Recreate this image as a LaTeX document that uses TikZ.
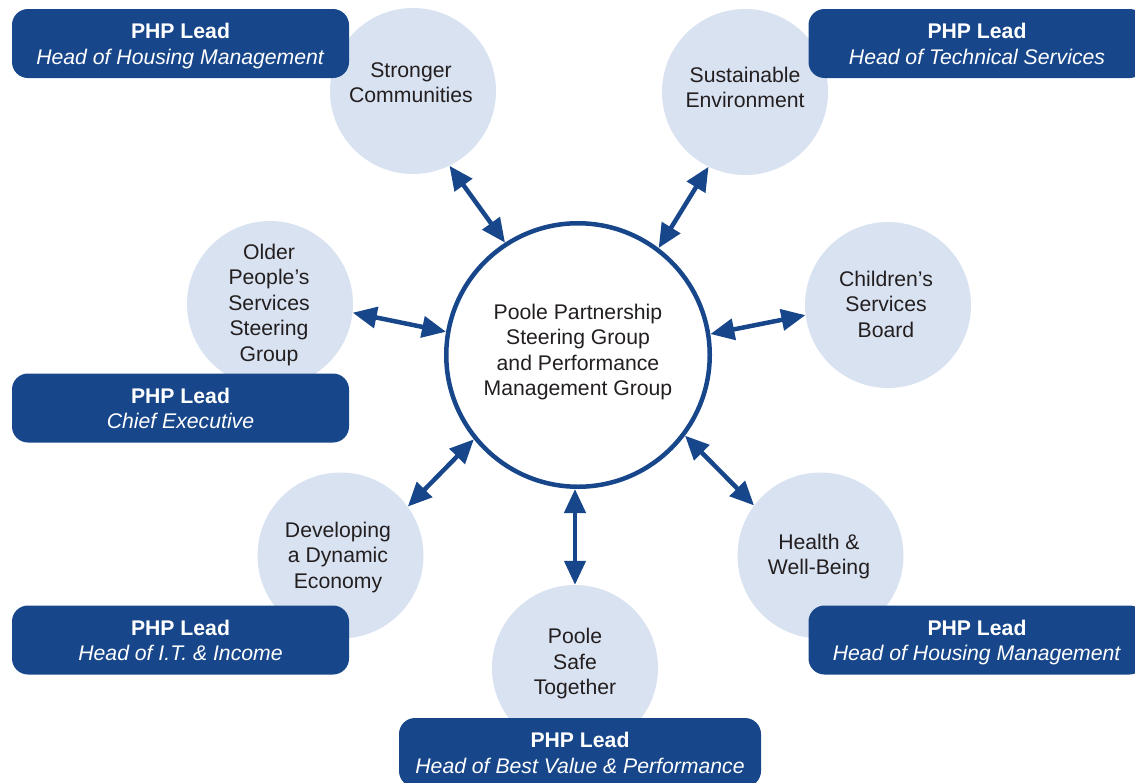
\documentclass[tikz,border=0pt]{standalone}
\usepackage{fontspec}
\setmainfont{Liberation Sans}
\usetikzlibrary{arrows.meta}
\definecolor{phpblue}{HTML}{17468A}
\definecolor{themefill}{HTML}{D9E2F1}
\definecolor{ink}{HTML}{231F20}
% fixed-height line strut so every lead box centres its two lines alike
\newcommand{\boxstrut}{\rule[-4pt]{0pt}{24pt}}
\begin{document}
\begin{tikzpicture}[x=1pt,y=-1pt,
  theme/.style={circle, fill=themefill, minimum size=166pt, inner sep=0pt},
  themetext/.style={align=center, text=ink, inner sep=0pt,
    font=\fontsize{21.2}{25.5}\selectfont},
  hub/.style={circle, draw=phpblue, line width=4.5pt, fill=white,
    minimum size=263.5pt, inner sep=0pt},
  leadbox/.style={rounded corners=16pt, fill=phpblue, text=white,
    minimum width=337pt, minimum height=69pt, align=center, inner sep=0pt,
    font=\fontsize{21.2}{25.5}\selectfont},
  link/.style={draw=phpblue, line width=4.5pt,
    {Triangle[length=24pt,width=21pt]}-{Triangle[length=24pt,width=21pt]}},
]
\useasboundingbox (0,0) rectangle (1135,782);
\clip (0,0) rectangle (1135,782);

% theme circles
\node[theme] (sc) at (413,91) {};
\node[theme] (se) at (745,92) {};
\node[theme] (op) at (270,304) {};
\node[theme] (cs) at (888,305) {};
\node[theme] (de) at (340.5,555.5) {};
\node[theme] (hw) at (820.5,555.5) {};
\node[theme] (ps) at (575,668) {};

% central steering group
\node[hub] (hub) at (578,355) {};

% circle captions
\node[themetext] (sct) at (411,82.5) {Stronger\\Communities};
\node[themetext] (set) at (745,87.5) {Sustainable\\Environment};
\node[themetext] (opt) at (269,305) {Older\\People’s\\Services\\Steering\\Group};
\node[themetext] (cst) at (886,304) {Children’s\\Services\\Board};
\node[themetext] (det) at (338,557.5) {Developing\\a Dynamic\\Economy};
\node[themetext] (hwt) at (819,556.5) {Health \&\\Well-Being};
\node[themetext] (pst) at (575,664) {Poole\\Safe\\Together};
\node[themetext] (hubt) at (578,352) {Poole Partnership\\Steering Group\\and Performance\\Management Group};

% PHP lead boxes
\node[leadbox] (l1) at (180.5,43.5) {\boxstrut\textbf{PHP Lead}\\\boxstrut\textit{Head of Housing Management}};
\node[leadbox] (l2) at (977,43.5) {\boxstrut\textbf{PHP Lead}\\\boxstrut\textit{Head of Technical Services}};
\node[leadbox] (l3) at (180.5,408) {\boxstrut\textbf{PHP Lead}\\\boxstrut\textit{Chief Executive}};
\node[leadbox] (l4) at (180.5,640) {\boxstrut\textbf{PHP Lead}\\\boxstrut\textit{Head of I.T. \& Income}};
\node[leadbox] (l5) at (977,640) {\boxstrut\textbf{PHP Lead}\\\boxstrut\textit{Head of Housing Management}};
\node[leadbox, minimum width=362pt] (l6) at (580,752.5) {\boxstrut\textbf{PHP Lead}\\\boxstrut\textit{Head of Best Value \& Performance}};

% two-way links between the hub and each theme
\draw[link] (hub.123.8) -- (sc.-64.7);
\draw[link] (hub.53.5) -- (se.-116.3);
\draw[link] (hub.170.2) -- (op.-6.8);
\draw[link] (hub.9.9) -- (cs.-173.9);
\draw[link] (hub.-141.6) -- (de.36.2);
\draw[link] (hub.-37.5) -- (hw.143.3);
\draw[link] (ps.north |- hub.south) -- (ps.north);
\end{tikzpicture}
\end{document}
